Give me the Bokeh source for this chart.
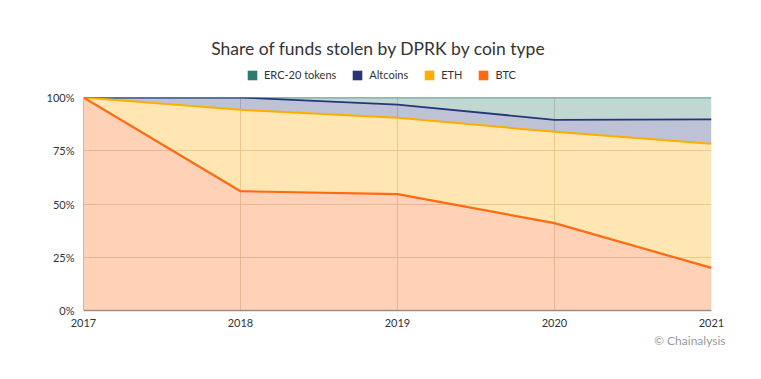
from bokeh.plotting import figure
from bokeh.layouts import column
from bokeh.models import (Range1d, FixedTicker, Title, Legend, LegendItem,
                          ColumnDataSource, Label)
from bokeh.embed import file_html
from bokeh.resources import INLINE

# ---- data (share of funds, %) ----
years = [2017, 2018, 2019, 2020, 2021]
btc = [100.0, 56.0, 54.6, 41.0, 20.0]
eth = [0.0, 38.2, 35.9, 42.9, 58.3]
altcoins = [0.0, 5.8, 6.2, 5.6, 11.4]
erc20 = [0.0, 0.0, 3.3, 10.5, 10.3]
series_names = ["BTC", "ETH", "Altcoins", "ERC-20 tokens"]
series_values = [btc, eth, altcoins, erc20]
series_colors = ["#ff6a13", "#ffad00", "#27367a", "#2e7b6b"]
y_ticks = [0, 25, 50, 75, 100]
y_tick_labels = ["0%", "25%", "50%", "75%", "100%"]
title_text = "Share of funds stolen by DPRK by coin type"
credit_text = "\u00a9 Chainalysis"

FONT = "Lato"
W = 745
HEAD_H = 87
LEFT = 83

# stacked bounds
bottoms = [0.0] * len(years)
tops_list = []
for vals in series_values:
    tops = [b + v for b, v in zip(bottoms, vals)]
    tops_list.append((list(bottoms), tops))
    bottoms = tops
sources = [ColumnDataSource(dict(x=years, lo=lo, hi=hi)) for lo, hi in tops_list]

# ---------- header: title + legend ----------
head = figure(width=W, height=HEAD_H, output_backend="svg", toolbar_location=None,
              x_range=Range1d(0, 1), y_range=Range1d(0, 1),
              min_border=0, min_border_left=0, min_border_right=0,
              min_border_top=0, min_border_bottom=0)
head.axis.visible = False
head.grid.visible = False
head.outline_line_color = None
head.background_fill_color = "white"
head.border_fill_color = "white"

head.add_layout(Label(x=378 - LEFT, y=HEAD_H - 48, x_units="screen", y_units="screen",
                      text=title_text, text_font=FONT, text_font_size="17.5px",
                      text_color="#333333", text_align="center",
                      text_baseline="middle"))

# legend swatches: the series areas themselves (outside the header's ranges),
# drawn in solid colour for the legend
legend_items = []
for name, col, src in zip(reversed(series_names), reversed(series_colors),
                          reversed(sources)):
    r = head.varea(x="x", y1="lo", y2="hi", source=src, fill_color=col,
                   fill_alpha=1.0)
    legend_items.append(LegendItem(label=name, renderers=[r]))

legend = Legend(items=legend_items, orientation="horizontal",
                location=(246 - LEFT, 6), glyph_width=12, glyph_height=12,
                label_standoff=6, spacing=15, padding=0, margin=0,
                label_text_font=FONT, label_text_font_size="11px",
                label_text_color="#333333",
                background_fill_alpha=0, border_line_alpha=0)
head.add_layout(legend, "center")

# ---------- main chart ----------
p = figure(width=W, height=363 - HEAD_H, output_backend="svg", toolbar_location=None,
           x_range=Range1d(2017, 2021), y_range=Range1d(0, 100),
           min_border_left=LEFT, min_border_right=34, min_border_top=10,
           min_border_bottom=53)
p.outline_line_color = None
p.background_fill_color = "white"
p.border_fill_color = "white"

for src, col in zip(sources, series_colors):
    p.varea(x="x", y1="lo", y2="hi", source=src, fill_color=col, fill_alpha=0.3)
for src, col, w in reversed(list(zip(sources, series_colors, [2.2, 2.0, 1.8, 1.6]))):
    p.line(x="x", y="hi", source=src, line_color=col, line_width=w)

p.xaxis.ticker = FixedTicker(ticks=years)
p.yaxis.ticker = FixedTicker(ticks=y_ticks)
p.yaxis.major_label_overrides = {t: l for t, l in zip(y_ticks, y_tick_labels)}
p.xaxis.major_label_overrides = {y: str(y) for y in years}
for ax in (p.xaxis, p.yaxis):
    ax.major_tick_line_color = None
    ax.minor_tick_line_color = None
    ax.major_label_text_font = FONT
    ax.major_label_text_font_size = "11px"
    ax.major_label_text_color = "#333333"
p.xaxis.axis_line_color = "#9a8f86"
p.xaxis.axis_line_width = 1.5
p.yaxis.axis_line_color = "#bdbdbd"
p.xaxis.major_label_standoff = 2
p.yaxis.major_label_standoff = 3

p.xgrid.grid_line_color = "#dccbbb"
p.ygrid.grid_line_color = "#dccbbb"
p.xgrid.grid_line_alpha = 0.8
p.ygrid.grid_line_alpha = 0.8

p.add_layout(Title(text=credit_text, align="right", offset=-14,
                   text_font=FONT, text_font_size="12px",
                   text_font_style="normal", text_color="#9a9a9a",
                   standoff=2), "below")

layout = column(head, p, spacing=0)
open("out.html", "w").write(file_html(layout, INLINE))
